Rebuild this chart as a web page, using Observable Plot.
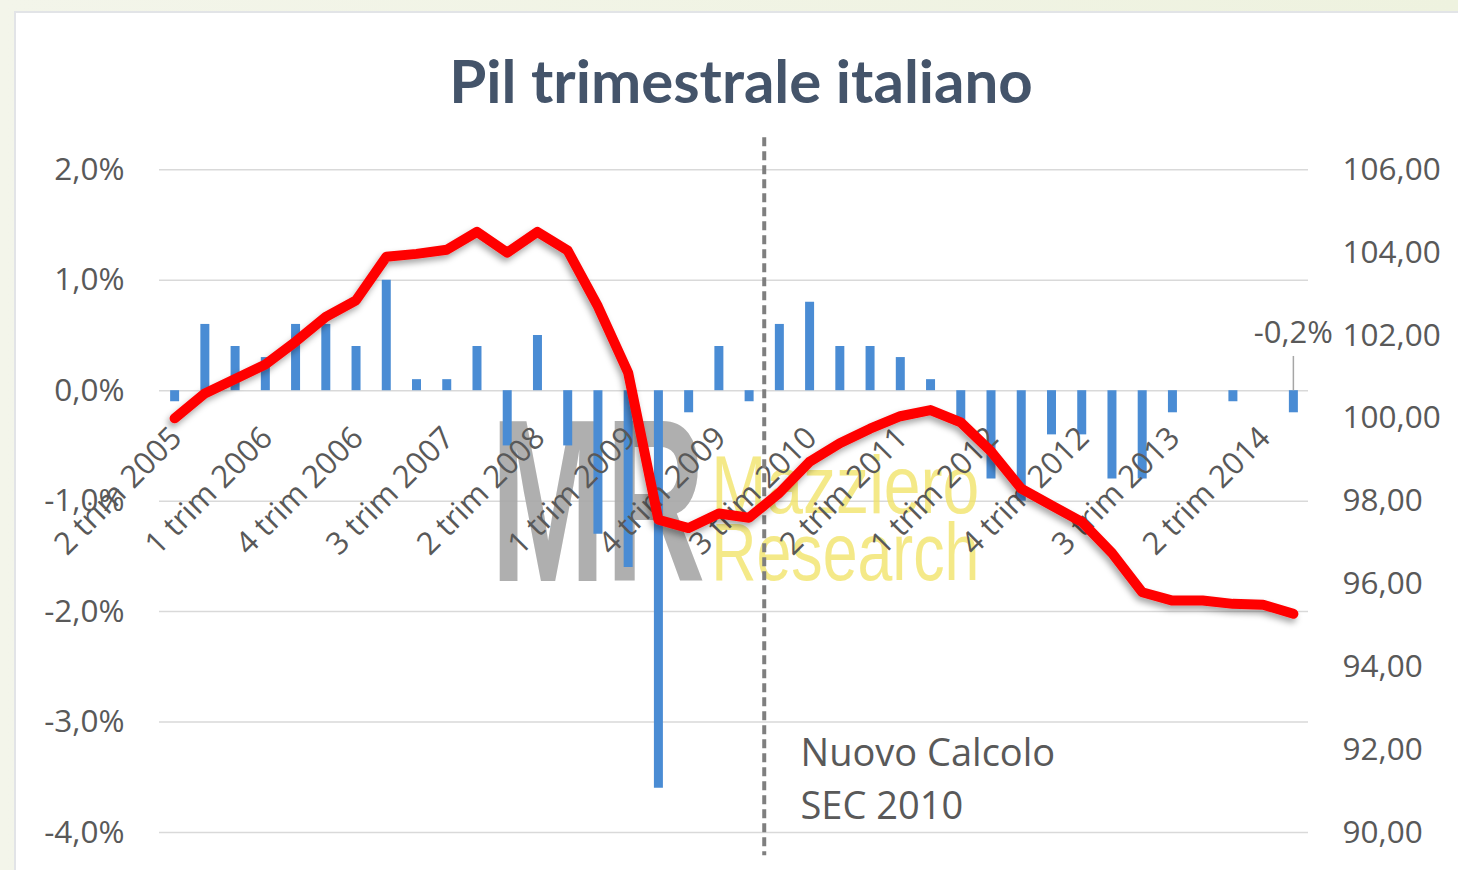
<!DOCTYPE html>
<html><head><meta charset="utf-8">
<script src="https://cdn.jsdelivr.net/npm/d3@7"></script>
<script src="https://cdn.jsdelivr.net/npm/@observablehq/plot@0.6"></script>
<style>
html,body{margin:0;padding:0;width:1458px;height:870px;overflow:hidden;background:linear-gradient(90deg,#f3f5ea,#eef2df);}
#frame{position:absolute;left:14px;top:11px;width:1460px;height:870px;background:#fff;border-left:2px solid #e2e4e7;border-top:2px solid #e2e4e7;}
#title{position:absolute;left:0;top:44px;width:1482px;text-align:center;font:bold 60px Lato,"Open Sans",sans-serif;color:#44546a;}
#chart{position:absolute;left:0;top:0;}
</style></head><body>
<div id="frame"></div>
<div id="title">Pil trimestrale italiano</div>
<div id="chart"></div>
<script>
// Quarters (x categories)
const quarters = [
  "2 trim 2005","3 trim 2005","4 trim 2005",
  "1 trim 2006","2 trim 2006","3 trim 2006","4 trim 2006",
  "1 trim 2007","2 trim 2007","3 trim 2007","4 trim 2007",
  "1 trim 2008","2 trim 2008","3 trim 2008","4 trim 2008",
  "1 trim 2009","2 trim 2009","3 trim 2009","4 trim 2009",
  "1 trim 2010","2 trim 2010","3 trim 2010","4 trim 2010",
  "1 trim 2011","2 trim 2011","3 trim 2011","4 trim 2011",
  "1 trim 2012","2 trim 2012","3 trim 2012","4 trim 2012",
  "1 trim 2013","2 trim 2013","3 trim 2013","4 trim 2013",
  "1 trim 2014","2 trim 2014","3 trim 2014"
];
// Quarter-on-quarter growth (%), left axis (bars)
const growth = [
  -0.1, 0.6, 0.4,
  0.3, 0.6, 0.6, 0.4,
  1.0, 0.1, 0.1, 0.4,
  -0.5, 0.5, -0.5, -1.3,
  -1.6, -3.6, -0.2, 0.4,
  -0.1, 0.6, 0.8, 0.4,
  0.4, 0.3, 0.1, -0.3,
  -0.8, -1.0, -0.4, -0.4,
  -0.8, -0.8, -0.2, 0.0,
  -0.1, 0.0, -0.2
];
// GDP index, right axis (line)
const gdpIndex = [
  100.0, 100.6, 100.95,
  101.3, 101.85, 102.45, 102.85,
  103.9, 103.97, 104.07, 104.5,
  104.0, 104.5, 104.05, 102.7,
  101.1, 97.55, 97.35, 97.7,
  97.6, 98.2, 98.95, 99.4,
  99.75, 100.05, 100.2, 99.9,
  99.2, 98.3, 97.9, 97.5,
  96.75, 95.8, 95.6, 95.6,
  95.52, 95.5, 95.28
];
const pctTicks = [-4, -3, -2, -1, 0, 1, 2];
const indexTicks = [90, 92, 94, 96, 98, 100, 102, 104, 106];
const pctDomain = [-4, 2];
const indexDomain = [90, 106];
const axisLabels = quarters.filter((_, i) => i % 3 === 0);
const lastLabel = "-0,2%";
const noteLines = ["Nuovo Calcolo", "SEC 2010"];
const sec2010Break = 19.5; // between 1 trim 2010 and 2 trim 2010

// map right-axis index onto the left (percent) scale
const toPct = v => pctDomain[0] + (v - indexDomain[0]) * (pctDomain[1] - pctDomain[0]) / (indexDomain[1] - indexDomain[0]);
const fromPct = p => indexDomain[0] + (p - pctDomain[0]) * (indexDomain[1] - indexDomain[0]) / (pctDomain[1] - pctDomain[0]);

const rows = quarters.map((q, i) => ({i, q, g: growth[i], v: gdpIndex[i]}));
const labelRows = axisLabels.map(q => ({i: quarters.indexOf(q), q}));
const lastI = quarters.length - 1;

const font = "'Open Sans', sans-serif";
const grey = "#595959";

const plot = Plot.plot({
  width: 1458, height: 870,
  marginTop: 169.3, marginBottom: 38, marginLeft: 159, marginRight: 150,
  x: {type: "linear", domain: [-0.5, quarters.length - 0.5], axis: null, label: null},
  y: {domain: pctDomain, axis: null, label: null},
  style: {background: "transparent", fontFamily: font, overflow: "visible"},
  marks: [
    Plot.ruleY(pctTicks, {stroke: "#d9d9d9", strokeWidth: 1.5}),
    // watermark
    Plot.text(["MR"], {x: 14, y: -1.72, text: d => d, fontSize: 232, fontWeight: "bold",
      fontFamily: "'Liberation Sans Narrow', 'Liberation Sans', sans-serif",
      fill: "#a6a6a6", fillOpacity: 0.9, lineAnchor: "bottom"}),
    Plot.text(["Mazziero", "Research"], {x: 17.75, y: (d, k) => k === 0 ? -1.11 : -1.71, text: d => d,
      fontSize: 82, fontFamily: "'Liberation Sans Narrow', 'Liberation Sans', sans-serif",
      fill: "#f0e160", fillOpacity: 0.75, textAnchor: "start", lineAnchor: "bottom"}),
    // bars
    Plot.ruleX(rows, {x: "i", y1: 0, y2: "g", stroke: "#4a8cd4", strokeWidth: 9}),
    // x labels
    Plot.text(labelRows, {x: "i", y: 0, text: "q", rotate: -45, textAnchor: "end",
      dx: 2, dy: 42, fontSize: 31, fill: grey}),
    // break line
    Plot.ruleX([sec2010Break], {y1: 2.29, y2: -4.21, stroke: "#7f7f7f", strokeWidth: 4, strokeDasharray: "9,5"}),
    // GDP index line
    Plot.line(rows, {x: "i", y: d => toPct(d.v), stroke: "#ff0000", strokeWidth: 10,
      strokeLinejoin: "round", strokeLinecap: "round"}),
    // last value label
    Plot.ruleX([lastI], {y1: 0, y2: 0.31, stroke: "#a6a6a6", strokeWidth: 1.5}),
    Plot.text([lastLabel], {x: lastI, y: 0.43, text: d => d, fontSize: 31, fill: grey, lineAnchor: "bottom"}),
    // note
    Plot.text(noteLines, {x: 20.7, y: (d, k) => k === 0 ? -3.40 : -3.88, text: d => d,
      textAnchor: "start", lineAnchor: "bottom", fontSize: 38, fill: grey}),
    // axes
    Plot.axisY(pctTicks, {anchor: "left", label: null, tickSize: 0, tickPadding: 35, fontSize: 31.5, fill: grey,
      tickFormat: d => d.toFixed(1).replace(".", ",") + "%"}),
    Plot.axisY(indexTicks.map(toPct), {anchor: "right", label: null, tickSize: 0, tickPadding: 34, fontSize: 31.5, fill: grey,
      tickFormat: d => fromPct(d).toFixed(2).replace(".", ",")})
  ]
});

// decorative: drop shadow on the line, compress watermark logo
const svg = d3.select(plot);
const defs = svg.insert("defs", ":first-child");
defs.append("filter").attr("id", "shadow").attr("x", "-10%").attr("y", "-10%").attr("width", "120%").attr("height", "130%")
  .append("feDropShadow").attr("dx", -2).attr("dy", 4).attr("stdDeviation", 3)
  .attr("flood-color", "#000").attr("flood-opacity", 0.35);
svg.selectAll("g[aria-label='line'] path").attr("filter", "url(#shadow)");
svg.selectAll("text").filter(function() { return this.textContent === "MR"; })
  .attr("textLength", 215).attr("lengthAdjust", "spacingAndGlyphs");
svg.selectAll("text").filter(function() { return this.textContent === "Mazziero" || this.textContent === "Research"; })
  .attr("textLength", 268).attr("lengthAdjust", "spacingAndGlyphs");

document.getElementById("chart").appendChild(plot);
</script>
</body></html>
